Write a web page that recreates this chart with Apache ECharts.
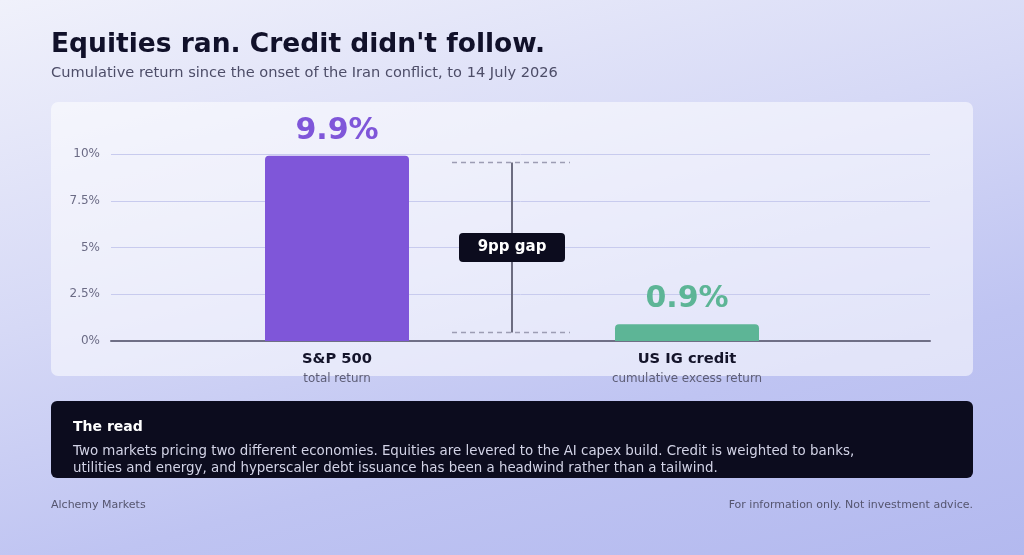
<!DOCTYPE html>
<html>
<head>
<meta charset="utf-8">
<script src="https://cdn.jsdelivr.net/npm/echarts@6/dist/echarts.min.js"></script>
<style>
  html, body { margin: 0; padding: 0; }
  body { width: 1024px; height: 555px; background: linear-gradient(165deg, #f0f1fb 0%, #d6d9f6 40%, #bfc4f2 70%, #b3b9ef 100%); }
  #chart { width: 1024px; height: 555px; }
</style>
</head>
<body>
<div id="chart"></div>
<script>
// 数据
const categories = ["S&P 500", "US IG credit"];
const subLabels = ["total return", "cumulative excess return"];
const returnValues = [9.9, 0.9];
const barColors = ["#7f56d9", "#5db596"];
const yTicks = [0, 2.5, 5, 7.5, 10];
const gapRange = [0.45, 9.55]; // 括号上下端
const gapLabel = "9pp gap";

const FONT = "DejaVu Sans";
const chart = echarts.init(document.getElementById("chart"));

const option = {
    textStyle: { fontFamily: FONT },
    animation: false,
    title: [
        {
            text: "Equities ran. Credit didn't follow.",
            left: 46, top: 27,
            textStyle: { fontSize: 26.5, fontWeight: "bold", color: "#11112a", fontFamily: FONT },
        },
        {
            text: "Cumulative return since the onset of the Iran conflict, to 14 July 2026",
            left: 46, top: 61,
            textStyle: { fontSize: 14.6, fontWeight: "normal", color: "#4d4d68", fontFamily: FONT },
        },
    ],
    graphic: [
        // 图表面板
        { type: "rect", z: -10, shape: { x: 51, y: 102, width: 922, height: 274, r: 7 },
          style: { fill: "rgba(255,255,255,0.55)" } },
        // 解读框
        { type: "rect", z: -10, shape: { x: 51, y: 401, width: 922, height: 77, r: 6 },
          style: { fill: "#0c0c1e" } },
        { type: "text", left: 73, top: 420,
          style: { text: "The read", fill: "#ffffff", font: "bold 14px " + FONT } },
        { type: "text", left: 73, top: 443,
          style: { text: "Two markets pricing two different economies. Equities are levered to the AI capex build. Credit is weighted to banks,\nutilities and energy, and hyperscaler debt issuance has been a headwind rather than a tailwind.",
                   fill: "#d2d3e6", font: "13.4px " + FONT, lineHeight: 17 } },
        // 页脚
        { type: "text", left: 51, top: 500,
          style: { text: "Alchemy Markets", fill: "#55556f", font: "11px " + FONT } },
        { type: "text", right: 51, top: 500,
          style: { text: "For information only. Not investment advice.", fill: "#55556f", font: "11px " + FONT } },
    ],
    grid: [
        { left: 111, right: 94, top: 154, bottom: 214 },
        { left: 162, right: 162, top: 154, bottom: 214 },
    ],
    xAxis: [
        {
            gridIndex: 0, type: "category", data: [""],
            axisLine: { show: true, lineStyle: { color: "#6f6f86", width: 2 } },
            axisTick: { show: false }, axisLabel: { show: false },
        },
        {
            gridIndex: 1, type: "category", data: categories,
            axisLine: { show: false }, axisTick: { show: false },
            axisLabel: {
                margin: 8,
                formatter: function (value, idx) {
                    return "{name|" + value + "}\n{sub|" + subLabels[idx] + "}";
                },
                rich: {
                    name: { fontSize: 14.7, fontWeight: "bold", color: "#14142a", lineHeight: 20, fontFamily: FONT },
                    sub: { fontSize: 11.9, color: "#5d5d75", lineHeight: 20, fontFamily: FONT },
                },
            },
        },
    ],
    yAxis: [
        {
            gridIndex: 0, type: "value", min: yTicks[0], max: yTicks[yTicks.length - 1], interval: 2.5,
            axisLine: { show: false }, axisTick: { show: false },
            axisLabel: { margin: 11, fontSize: 12, color: "#6b6b85", padding: [4, 0, 0, 0], formatter: (v) => v + "%" },
            splitLine: { lineStyle: { color: "#c8cbee", width: 1 } },
        },
        {
            gridIndex: 1, type: "value", min: yTicks[0], max: yTicks[yTicks.length - 1],
            show: false, splitLine: { show: false },
        },
    ],
    series: [
        {
            type: "bar",
            xAxisIndex: 1, yAxisIndex: 1,
            barWidth: 144,
            data: returnValues.map((v, i) => ({
                value: v,
                itemStyle: { color: barColors[i], borderRadius: [4, 4, 0, 0] },
                label: { color: barColors[i] },
            })),
            label: {
                show: true, position: "top", distance: 10,
                fontSize: 30, fontWeight: "bold", fontFamily: FONT,
                formatter: (p) => p.value.toFixed(1) + "%",
            },
        },
        {
            // 差距标注
            type: "custom",
            xAxisIndex: 1, yAxisIndex: 1,
            data: [gapRange],
            renderItem: function (params, api) {
                const lo = api.value(0), hi = api.value(1);
                const pA = api.coord([0, hi]);
                const pB = api.coord([1, lo]);
                const x = (pA[0] + pB[0]) / 2;
                const yTop = pA[1], yBot = pB[1];
                const yMid = api.coord([0, (lo + hi) / 2])[1];
                const dash = { stroke: "#9d9db4", lineWidth: 1.5, lineDash: [5, 4] };
                return {
                    type: "group",
                    children: [
                        { type: "line", shape: { x1: x - 60, y1: yTop, x2: x + 58, y2: yTop }, style: dash },
                        { type: "line", shape: { x1: x - 60, y1: yBot, x2: x + 58, y2: yBot }, style: dash },
                        { type: "line", shape: { x1: x, y1: yTop, x2: x, y2: yBot },
                          style: { stroke: "#6c6c80", lineWidth: 2 } },
                        { type: "rect", shape: { x: x - 53, y: yMid - 14.5, width: 106, height: 29, r: 4 },
                          style: { fill: "#0c0c1e" } },
                        { type: "text", x: x, y: yMid,
                          style: { text: gapLabel, fill: "#ffffff", font: "bold 15px " + FONT,
                                   align: "center", verticalAlign: "middle" } },
                    ],
                };
            },
        },
    ],
};

chart.setOption(option);
window.addEventListener("resize", function () { chart.resize(); });
</script>
</body>
</html>
